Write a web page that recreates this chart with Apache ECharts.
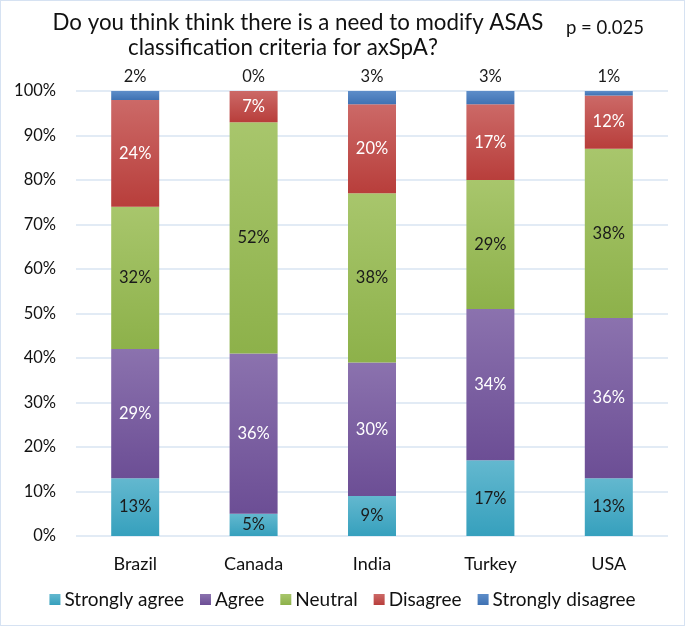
<!DOCTYPE html>
<html>
<head>
<meta charset="utf-8">
<script src="https://cdn.jsdelivr.net/npm/echarts@6/dist/echarts.min.js"></script>
<style>
html,body{margin:0;padding:0;background:#fff;}
#chart{position:absolute;left:0;top:0;width:683px;height:624px;border:1px solid #d6e2f2;}
</style>
</head>
<body>
<div id="chart"></div>
<script>
const categories = ['Brazil', 'Canada', 'India', 'Turkey', 'USA'];
const stronglyAgree = [13, 5, 9, 17, 13];
const agree = [29, 36, 30, 34, 36];
const neutral = [32, 52, 38, 29, 38];
const disagree = [24, 7, 20, 17, 12];
const stronglyDisagree = [2, 0, 3, 3, 1];
const yTicks = [0, 10, 20, 30, 40, 50, 60, 70, 80, 90, 100];
const titleLines = ['Do you think think there is a need to modify ASAS', 'classification criteria for axSpA?'];
const pValueText = 'p = 0.025';

const FONT = 'Lato, "Open Sans", sans-serif';
function grad(top, bottom) {
  return new echarts.graphic.LinearGradient(0, 0, 0, 1, [
    {offset: 0, color: top}, {offset: 1, color: bottom}
  ]);
}
const seriesDefs = [
  {name: 'Strongly agree', data: stronglyAgree, color: '#4bacc6', g: ['#63b8cf', '#36a0bd'], lc: '#1a1a1a', pos: 'inside'},
  {name: 'Agree', data: agree, color: '#8064a2', g: ['#8b72ae', '#6c4e95'], lc: '#ffffff', pos: 'inside'},
  {name: 'Neutral', data: neutral, color: '#9bbb59', g: ['#a8c66c', '#8db14a'], lc: '#1a1a1a', pos: 'inside'},
  {name: 'Disagree', data: disagree, color: '#c0504d', g: ['#cc6967', '#b83e3b'], lc: '#ffffff', pos: 'inside'},
  {name: 'Strongly disagree', data: stronglyDisagree, color: '#4f81bd', g: ['#5d8dc9', '#3f72b3'], lc: '#1a1a1a', pos: 'top'}
];

const chart = echarts.init(document.getElementById('chart'));
chart.setOption({
  animation: false,
  color: seriesDefs.map(s => s.color),
  graphic: [
    {type: 'text', x: 297, y: 22, style: {text: titleLines[0], align: 'center', verticalAlign: 'middle',
      font: 'normal 22.3px ' + FONT, fill: '#111'}},
    {type: 'text', x: 282, y: 47, style: {text: titleLines[1], align: 'center', verticalAlign: 'middle',
      font: 'normal 22.3px ' + FONT, fill: '#111'}},
    {type: 'text', x: 565, y: 27, style: {text: pValueText, align: 'left', verticalAlign: 'middle',
      font: 'normal 18.5px ' + FONT, fill: '#111'}}
  ],
  grid: {left: 75, right: 16, top: 90, bottom: 89},
  legend: {
    bottom: 11, left: 'center', itemWidth: 11, itemHeight: 11, itemGap: 16,
    icon: 'rect',
    textStyle: {fontFamily: FONT, fontSize: 19, color: '#111', padding: [0, 0, 0, -1]},
    data: seriesDefs.map(s => s.name)
  },
  xAxis: {
    type: 'category', data: categories,
    axisLine: {show: false}, axisTick: {show: false},
    axisLabel: {fontFamily: FONT, fontSize: 18, color: '#111', margin: 19}
  },
  yAxis: {
    type: 'value', min: 0, max: 100, interval: 10,
    axisLabel: {fontFamily: FONT, fontSize: 16.5, color: '#111', margin: 20,
      formatter: v => yTicks.includes(v) ? v + '%' : ''},
    splitLine: {lineStyle: {color: '#d9e4f2', width: 1.5}},
    axisLine: {show: false}, axisTick: {show: false}
  },
  series: seriesDefs.map(s => ({
    name: s.name, type: 'bar', stack: 'total', barWidth: 48,
    data: s.data,
    itemStyle: {color: grad(s.g[0], s.g[1])},
    label: {show: true, position: s.pos, distance: 6, formatter: '{c}%',
      fontFamily: FONT, fontSize: 16.5, color: s.lc}
  }))
});
</script>
</body>
</html>
